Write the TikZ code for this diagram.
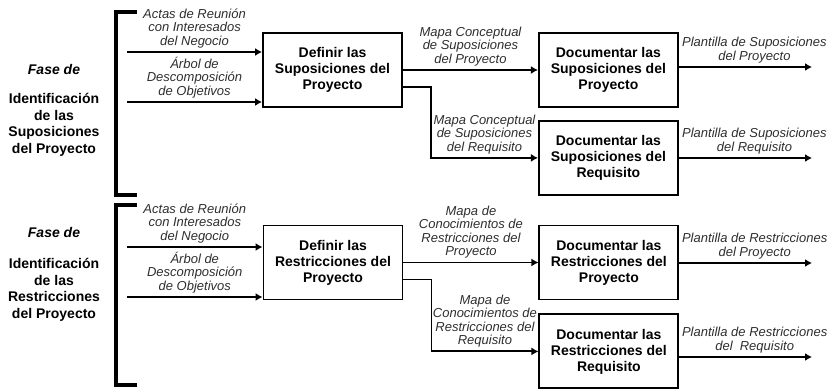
\documentclass[tikz,border=0pt]{standalone}
\usepackage{fontspec}
\setmainfont{Liberation Sans}
\usetikzlibrary{arrows.meta,positioning}
\tikzset{block/.style = {draw, rectangle, line width = 1.9pt, minimum width = 139pt, minimum height = 74pt, align = center, font = \fontsize{14}{16}\selectfont\bfseries},
         lbl/.style = {align = center, text = black!82, inner sep = 3pt, font = \fontsize{13}{13.5}\selectfont\itshape},
         phase/.style = {align = center, font = \fontsize{14}{16.5}\selectfont\bfseries},
         flow/.style = {-{Latex[length=7pt, width=8pt]}, line width = 1.8pt},
         brace/.style = {line width = 4.5pt},
}

\begin{document}
\begin{tikzpicture}[x = 1pt, y = 1pt, auto, node distance = 135pt]
  \useasboundingbox (0,0) rectangle (829,390);

  % suposiciones
  \node[phase] at (54,320) (fase1) {\itshape Fase de};
  \node[phase] at (54,265) (ident1) {Identificación\\de las\\Suposiciones\\del Proyecto};
  \draw[brace] (137,378) -| (116,195) -- (137,195);

  \node[block] at (332.5,320) (def1) {Definir las\\Suposiciones del\\Proyecto};
  \node[block, right = of def1] (doc1) {Documentar las\\Suposiciones del\\Proyecto};
  \node[block, below = 12pt of doc1] (doc2) {Documentar las\\Suposiciones del\\Requisito};

  \coordinate (in1) at (127,338);
  \coordinate (in2) at (127,288);
  \coordinate (out1) at (812,323);
  \coordinate (out2) at (812,232);

  \draw[flow] (in1) -- node[lbl, above] {Actas de Reunión\\con Interesados\\del Negocio} (in1 -| def1.west);
  \draw[flow] (in2) -- node[lbl, above] {Árbol de\\Descomposición\\de Objetivos} (in2 -| def1.west);
  \draw[flow] (def1) -- node[lbl, above] {Mapa Conceptual\\de Suposiciones\\del Proyecto} (doc1);
  \draw[flow] ([yshift=-17pt]def1.east) -- ++(28,0) |- node[lbl, above, pos = 0.75] {Mapa Conceptual\\de Suposiciones\\del Requisito} (doc2.west);
  \draw[flow] (doc1.east |- out1) -- node[lbl, above, xshift = 9pt] {Plantilla de Suposiciones\\del Proyecto} (out1);
  \draw[flow] (doc2.east |- out2) -- node[lbl, above, xshift = 9pt] {Plantilla de Suposiciones\\del Requisito} (out2);

  % restricciones
  \node[phase] at (54,157) (fase2) {\itshape Fase de};
  \node[phase] at (54,100) (ident2) {Identificación\\de las\\Restricciones\\del Proyecto};
  \draw[brace] (137,185) -| (116,5) -- (137,5);

  \node[block] at (333,127.5) (def2) {Definir las\\Restricciones del\\Proyecto};
  \node[block, right = of def2] (doc3) {Documentar las\\Restricciones del\\Proyecto};
  \node[block, below = 13pt of doc3] (doc4) {Documentar las\\Restricciones del\\Requisito};

  \coordinate (in3) at (127,143);
  \coordinate (in4) at (127,93);
  \coordinate (out3) at (812,127);
  \coordinate (out4) at (812,33);

  \draw[flow] (in3) -- node[lbl, above] {Actas de Reunión\\con Interesados\\del Negocio} (in3 -| def2.west);
  \draw[flow] (in4) -- node[lbl, above] {Árbol de\\Descomposición\\de Objetivos} (in4 -| def2.west);
  \draw[flow] (def2) -- node[lbl, above] {Mapa de\\Conocimientos de\\Restricciones del\\Proyecto} (doc3);
  \draw[flow] ([yshift=-17pt]def2.east) -- ++(28,0) |- node[lbl, above, pos = 0.75] {Mapa de\\Conocimientos de\\Restricciones del\\Requisito} (doc4.west);
  \draw[flow] (doc3.east |- out3) -- node[lbl, above, xshift = 9pt] {Plantilla de Restricciones\\del Proyecto} (out3);
  \draw[flow] (doc4.east |- out4) -- node[lbl, above, xshift = 9pt] {Plantilla de Restricciones\\del\ \ Requisito} (out4);

\end{tikzpicture}
\end{document}
